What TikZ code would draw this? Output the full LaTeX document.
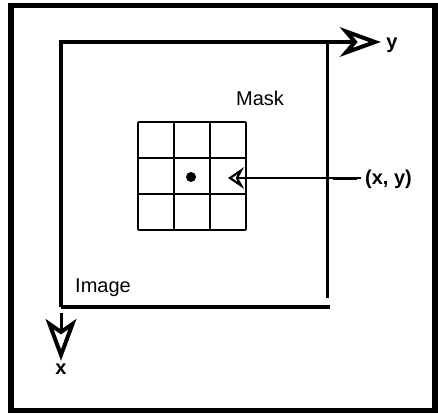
\documentclass[tikz,border=0pt]{standalone}
\usepackage{fontspec}
\setmainfont{Liberation Sans}
\begin{document}
\begin{tikzpicture}[x=1pt,y=-1pt,
  frame/.style={line width=5.5pt},
  imgline/.style={line width=3.5pt},
  gridline/.style={line width=2pt},
  headbig/.style={line width=4pt, line join=miter, fill=white},
  headsmall/.style={line width=2.2pt, line join=miter, fill=white},
  lbl/.style={font=\fontsize{20}{22}\selectfont, inner sep=0pt},
  axlbl/.style={font=\bfseries\fontsize{20}{22}\selectfont, inner sep=0pt}]
\useasboundingbox (0,0) rectangle (438,414);
\draw[frame] (11,5.5) rectangle (435,410.5);
% image rectangle
\coordinate (tl) at (61,42);
\coordinate (ytip) at (375,42);
\coordinate (bl) at (61,307);
\coordinate (br) at (330,307);
\coordinate (rt) at (327.5,44);
\coordinate (rb) at (327.5,298);
\draw[imgline] (bl) -- (tl) -- (353,42);
\draw[headbig] (ytip) -- (346,31.5) -- (355,42) -- (346,52.5) -- cycle;
\draw[imgline] (bl) -- (br);
\draw[imgline] (rt) -- (rb);
\node[axlbl] (ylbl) at (392,45) {y};
% x axis arrow
\coordinate (xstart) at (61,313);
\coordinate (xtip) at (61,355);
\draw[line width=3pt] (xstart) -- (61,333);
\draw[headbig] (xtip) -- (49.5,324) -- (61,332) -- (72.5,324) -- cycle;
\node[axlbl] (xlbl) at (61,369) {x};
% mask grid
\foreach \i in {0,1,2,3} {
  \draw[gridline] (138+36*\i,122) -- (138+36*\i,230);
  \draw[gridline] (138,122+36*\i) -- (246,122+36*\i);
}
\fill (191,177) circle (5pt);
\node[lbl] (mask) at (260,98) {Mask};
\node[lbl] (image) at (103,288) {Image};
% (x,y) label and arrow
\node[axlbl, anchor=west] (xy) at (365,179) {(x, y)};
\coordinate (xyend) at (230,178);
\draw[line width=1.5pt] (xy.west |- xyend) ++(-4,0) -- (236,178);
\draw[headsmall] (xyend) -- (241,170.5) -- (237,178) -- (241,185.5) -- cycle;
\draw[line width=3pt] (333,178) -- (357,178);
\end{tikzpicture}
\end{document}
